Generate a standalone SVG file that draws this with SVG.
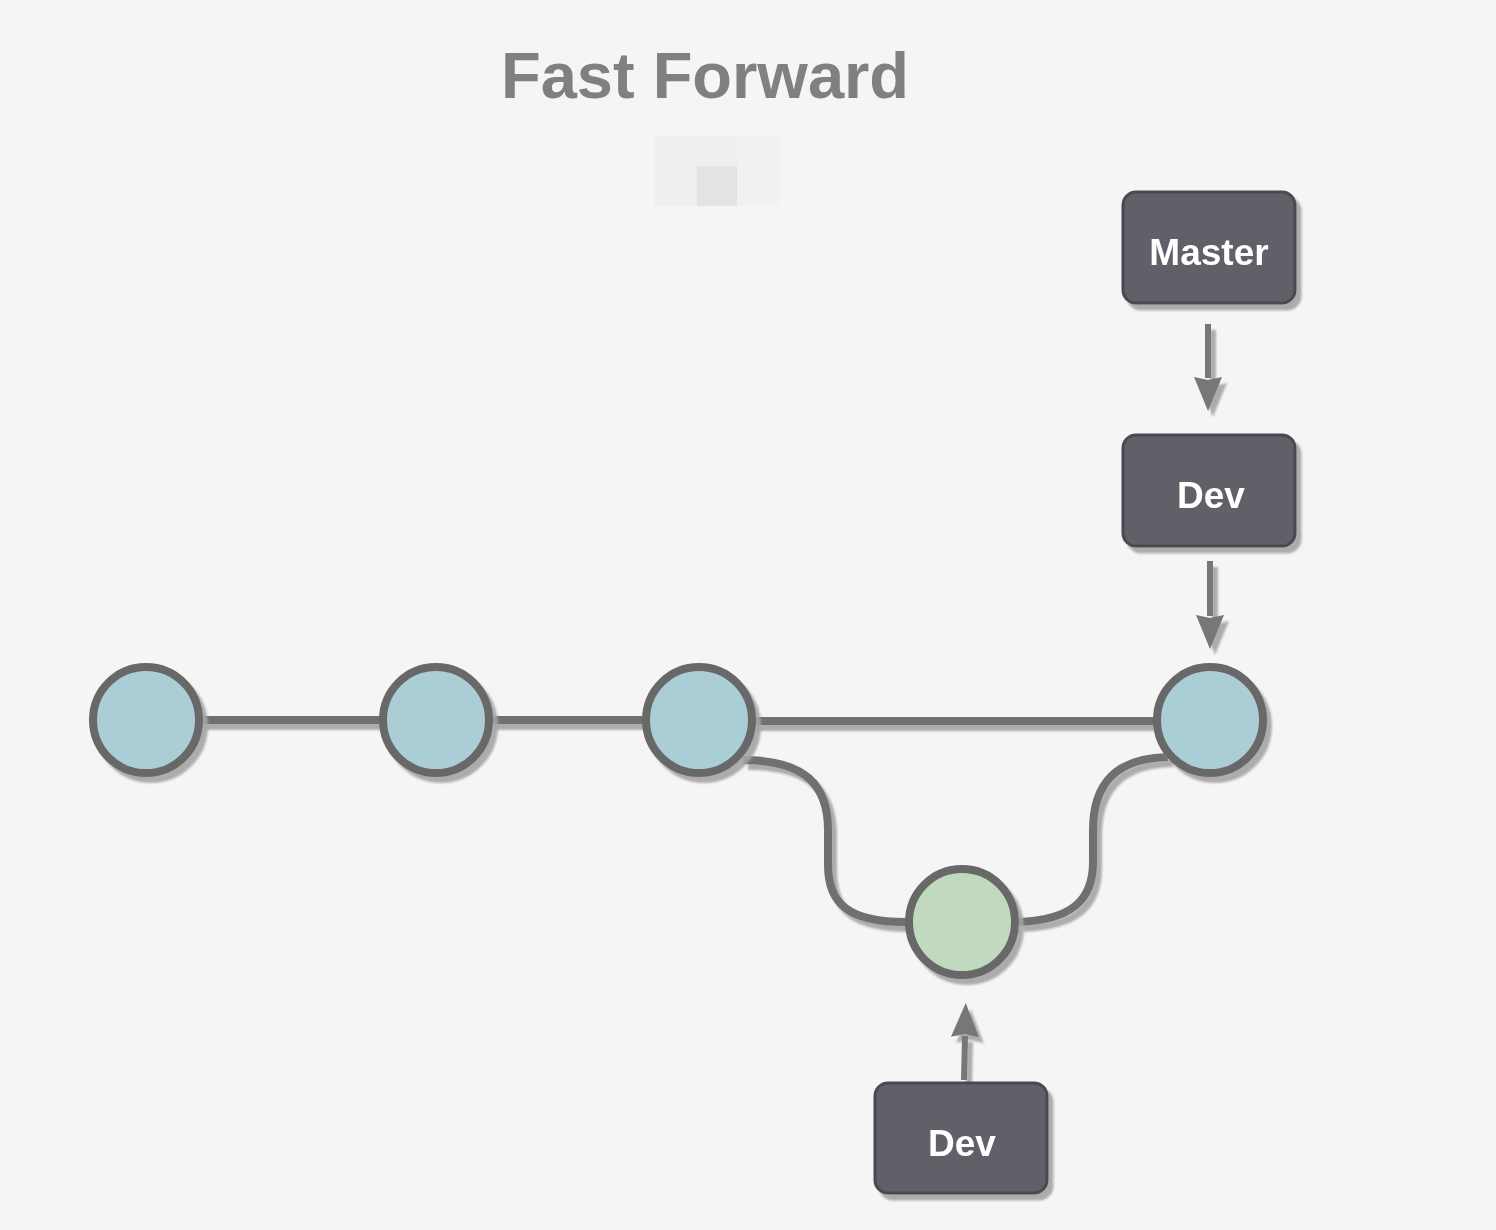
<svg xmlns="http://www.w3.org/2000/svg" width="1496" height="1230" viewBox="0 0 1496 1230">
  <defs>
    <filter id="sh" x="-20%" y="-20%" width="150%" height="150%">
      <feDropShadow dx="5" dy="6" stdDeviation="1.2" flood-color="#a4a4a4" flood-opacity="0.9"/>
    </filter>
    <marker id="head" viewBox="0 0 34 30" refX="1" refY="15" markerWidth="34" markerHeight="30" markerUnits="userSpaceOnUse" orient="auto">
      <path d="M0,1 L34,15 L0,29 L3,15 Z" fill="#777777"/>
    </marker>
    <style>
      .commit { stroke: #686868; stroke-width: 8; }
      .blue { fill: #abcdd5; }
      .green { fill: #c1d9bf; }
      .edge { fill: none; stroke: #707070; stroke-width: 8; }
      .ptr { fill: none; stroke: #777777; stroke-width: 6; }
      .box { fill: #5f6068; stroke: #48494f; stroke-width: 3; }
      .lbl { font-family: "Liberation Sans", Arial, sans-serif; font-weight: bold; font-size: 37px; fill: #ffffff; text-anchor: middle; }
      .title { font-family: "Liberation Sans", Arial, sans-serif; font-weight: bold; font-size: 65px; fill: #808080; text-anchor: middle; }
    </style>
  </defs>
  <rect width="1496" height="1230" fill="#f5f5f5"/>

  <text class="title" x="705" y="98">Fast Forward</text>

  <g id="blur">
    <rect x="655" y="136" width="42" height="70" fill="#efefef"/>
    <rect x="697" y="136" width="40" height="30" fill="#efefef"/>
    <rect x="697" y="166" width="40" height="40" fill="#e3e3e3"/>
    <rect x="737" y="136" width="42" height="70" fill="#f1f1f1"/>
  </g>

  <g id="connectors" filter="url(#sh)">
    <line class="edge" x1="200" y1="720" x2="382" y2="720"/>
    <line class="edge" x1="490" y1="720" x2="645" y2="720"/>
    <line class="edge" x1="752" y1="721" x2="1158" y2="721"/>
    <path class="edge" d="M743,760 C805,760 828,785 828,830 L828,865 C828,905 850,922 906,922"/>
    <path class="edge" d="M1018,922 C1072,920 1093,900 1093,862 L1093,830 C1093,782 1118,758 1168,757"/>
    <line class="ptr" x1="1208" y1="324" x2="1208" y2="378" marker-end="url(#head)"/>
    <line class="ptr" x1="1210" y1="561" x2="1210" y2="616" marker-end="url(#head)"/>
    <line class="ptr" x1="964" y1="1080" x2="965" y2="1036" marker-end="url(#head)"/>
  </g>

  <g id="c1" filter="url(#sh)"><circle class="commit blue" cx="146" cy="720" r="53"/></g>
  <g id="c2" filter="url(#sh)"><circle class="commit blue" cx="436" cy="720" r="53"/></g>
  <g id="c3" filter="url(#sh)"><circle class="commit blue" cx="699" cy="720" r="53"/></g>
  <g id="c4" filter="url(#sh)"><circle class="commit blue" cx="1210" cy="720" r="53"/></g>
  <g id="c5" filter="url(#sh)"><circle class="commit green" cx="962" cy="922" r="53"/></g>

  <g id="master" filter="url(#sh)">
    <rect class="box" x="1123" y="192" width="172" height="111" rx="13"/>
    <text class="lbl" x="1209" y="265">Master</text>
  </g>
  <g id="dev-top" filter="url(#sh)">
    <rect class="box" x="1123" y="435" width="172" height="111" rx="13"/>
    <text class="lbl" x="1211" y="508">Dev</text>
  </g>
  <g id="dev-bottom" filter="url(#sh)">
    <rect class="box" x="875" y="1083" width="172" height="110" rx="13"/>
    <text class="lbl" x="962" y="1156">Dev</text>
  </g>
</svg>
